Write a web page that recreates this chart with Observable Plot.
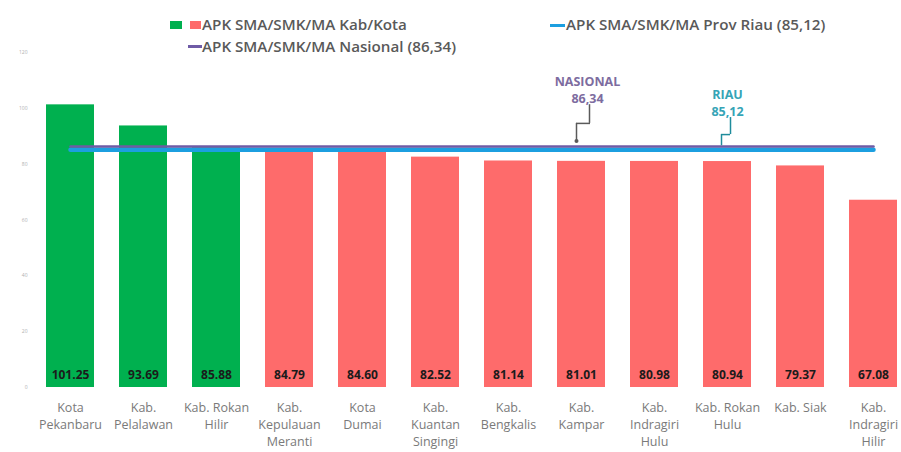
<!DOCTYPE html>
<html>
<head>
<meta charset="utf-8">
<script src="https://cdn.jsdelivr.net/npm/d3@7"></script>
<script src="https://cdn.jsdelivr.net/npm/@observablehq/plot@0.6"></script>
<style>
  html, body { margin: 0; padding: 0; background: #fff; }
  #wrap { position: relative; width: 901px; height: 452px; overflow: hidden; font-family: "Open Sans", sans-serif; }
  .lg { position: absolute; font-size: 15.2px; font-weight: 600; color: #595959; white-space: nowrap; line-height: 17px; }
  .sw { position: absolute; }
</style>
</head>
<body>
<div id="wrap"></div>
<script>
const categories = [
  "Kota\nPekanbaru", "Kab.\nPelalawan", "Kab. Rokan\nHilir", "Kab.\nKepulauan\nMeranti",
  "Kota\nDumai", "Kab.\nKuantan\nSingingi", "Kab.\nBengkalis", "Kab.\nKampar",
  "Kab.\nIndragiri\nHulu", "Kab. Rokan\nHulu", "Kab. Siak", "Kab.\nIndragiri\nHilir"
];
const values = [101.25, 93.69, 85.88, 84.79, 84.60, 82.52, 81.14, 81.01, 80.98, 80.94, 79.37, 67.08];
const valueLabels = ["101.25", "93.69", "85.88", "84.79", "84.60", "82.52", "81.14", "81.01", "80.98", "80.94", "79.37", "67.08"];
const riau = 85.12;
const nasional = 86.34;
const yTicks = [0, 20, 40, 60, 80, 100, 120];
const legendKab = "APK SMA/SMK/MA Kab/Kota";
const legendRiau = "APK SMA/SMK/MA Prov Riau (85,12)";
const legendNas = "APK SMA/SMK/MA Nasional (86,34)";
const annNasional = {x: "Kab.\nKampar", text: "NASIONAL\n86,34", textY: 106.9, y1: 101.3, yMid: 94.6, yEnd: 88.3};
const annRiau = {x: "Kab. Rokan\nHulu", text: "RIAU\n85,12", textY: 102.3, y1: 96.7, yMid: 90.6, yEnd: 86.6};

const GREEN = "#00b04f";
const RED = "#fe6b6b";
const BLUE = "#1c9fe0";
const PURPLE = "#6f5ba6";
const NAS_TXT = "#7d6c9f";
const RIAU_TXT = "#35a4b6";

const data = categories.map((c, i) => ({cat: c, value: values[i], label: valueLabels[i]}));

const chart = Plot.plot({
  width: 901,
  height: 452,
  marginTop: 52,
  marginBottom: 65,
  marginLeft: 46,
  marginRight: 3,
  style: {fontFamily: "Open Sans, sans-serif", background: "transparent"},
  x: {domain: categories, paddingInner: 0.342, paddingOuter: 0, align: 0.5, label: null},
  y: {domain: [0, 120], label: null},
  marks: [
    Plot.axisY({ticks: yTicks, tickSize: 0, tickPadding: 19, fontSize: 5, color: "#b0b0b0", label: null}),
    Plot.axisX({tickSize: 0, tickPadding: 12, fontSize: 12.5, color: "#7a7a7a", lineHeight: 1.38, label: null}),
    Plot.barY(data, {x: "cat", y: "value", fill: d => d.value >= riau ? GREEN : RED}),
    Plot.text(data, {x: "cat", y: 0, text: "label", dy: -12, fontSize: 12, fontWeight: "bold", fill: "#1b1b1b"}),
    Plot.lineY(categories, {x: d => d, y: () => riau, stroke: BLUE, strokeWidth: 4.5}),
    Plot.lineY(categories, {x: d => d, y: () => nasional, stroke: PURPLE, strokeWidth: 2.5}),
    // Nasional annotation
    Plot.text([annNasional], {x: "x", y: "textY", text: "text", dx: 6, fontSize: 12.5, fontWeight: "bold", fill: NAS_TXT, lineHeight: 1.35}),
    Plot.ruleX([annNasional], {x: "x", y1: "y1", y2: "yMid", dx: 8, stroke: "#5a5a5a", strokeWidth: 1.5}),
    Plot.tickY([annNasional], {x: "x", y: "yMid", insetLeft: 19, insetRight: 15, stroke: "#5a5a5a", strokeWidth: 1.5}),
    Plot.ruleX([annNasional], {x: "x", y1: "yMid", y2: "yEnd", dx: -5, stroke: "#5a5a5a", strokeWidth: 1.5}),
    Plot.dot([annNasional], {x: "x", y: "yEnd", dx: -5, r: 2, fill: "#5a5a5a"}),
    // Riau annotation
    Plot.text([annRiau], {x: "x", y: "textY", text: "text", dx: 0, fontSize: 12.5, fontWeight: "bold", fill: RIAU_TXT, lineHeight: 1.35}),
    Plot.ruleX([annRiau], {x: "x", y1: "y1", y2: "yMid", dx: 3, stroke: "#1f8c9c", strokeWidth: 1.5}),
    Plot.tickY([annRiau], {x: "x", y: "yMid", insetLeft: 18, insetRight: 21, stroke: "#1f8c9c", strokeWidth: 1.5}),
    Plot.ruleX([annRiau], {x: "x", y1: "yMid", y2: "yEnd", dx: -6, stroke: "#1f8c9c", strokeWidth: 1.5})
  ]
});

const wrap = document.getElementById("wrap");
wrap.appendChild(chart);

function sw(left, top, w, h, color) {
  const d = document.createElement("div");
  d.className = "sw";
  Object.assign(d.style, {left: left + "px", top: top + "px", width: w + "px", height: h + "px", background: color});
  wrap.appendChild(d);
}
function lg(left, top, text) {
  const d = document.createElement("div");
  d.className = "lg";
  d.style.left = left + "px";
  d.style.top = top + "px";
  d.textContent = text;
  wrap.appendChild(d);
}
sw(170, 21, 12, 8, GREEN);
sw(190, 21, 11, 8, RED);
lg(202, 16, legendKab);
sw(550, 24, 15, 3, BLUE);
lg(566, 16, legendRiau);
sw(188, 45, 14, 3, PURPLE);
lg(202, 38, legendNas);
</script>
</body>
</html>
